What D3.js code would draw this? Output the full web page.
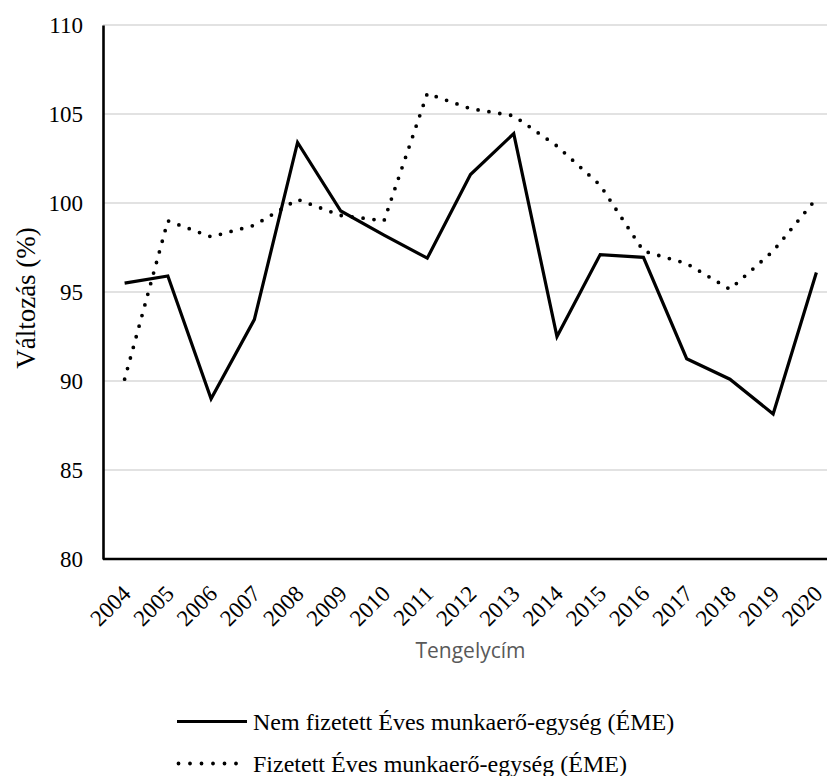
<!DOCTYPE html>
<html>
<head>
<meta charset="utf-8">
<script src="https://cdn.jsdelivr.net/npm/d3@7"></script>
<style>
  html, body { margin: 0; padding: 0; background: #fff; }
  svg { display: block; }
</style>
</head>
<body>
<svg id="chart" width="827" height="776"></svg>
<script>
const years = ["2004","2005","2006","2007","2008","2009","2010","2011","2012","2013","2014","2015","2016","2017","2018","2019","2020"];
const unpaid = [95.5, 95.9, 89.0, 93.45, 103.4, 99.55, 98.2, 96.9, 101.6, 103.9, 92.5, 97.1, 96.95, 91.25, 90.1, 88.15, 96.1];
const paid = [90.1, 99.0, 98.1, 98.75, 100.2, 99.3, 99.0, 106.15, 105.3, 104.9, 103.2, 101.0, 97.3, 96.6, 95.15, 97.3, 100.25];
const yTicks = [80, 85, 90, 95, 100, 105, 110];
const seriesNames = ["Nem fizetett Éves munkaerő-egység (ÉME)", "Fizetett Éves munkaerő-egység (ÉME)"];
const yTitle = "Változás (%)";
const xTitle = "Tengelycím";

(function () {
const svg = d3.select("#chart");
const mL = 103, mR = 838, mT = 25, mB = 559;
const serif = "'Liberation Serif', 'Times New Roman', serif";

const x = d3.scalePoint().domain(years).range([mL, mR]).padding(0.5);
const y = d3.scaleLinear().domain([80, 110]).range([mB, mT]);

// gridlines
svg.append("g").selectAll("line").data(yTicks.filter(d => d !== 80)).join("line")
  .attr("x1", mL).attr("x2", mR)
  .attr("y1", d => y(d)).attr("y2", d => y(d))
  .attr("stroke", "#d9d9d9").attr("stroke-width", 1.5);

// y axis
const yAxis = svg.append("g").attr("transform", `translate(${mL},0)`)
  .call(d3.axisLeft(y).tickValues(yTicks).tickSize(0).tickPadding(20).tickFormat(d3.format("d")));
yAxis.select(".domain").attr("stroke", "#000").attr("stroke-width", 2.6);
yAxis.selectAll("text").attr("font-family", serif).attr("font-size", 23).attr("fill", "#000");

// x axis
const xAxis = svg.append("g").attr("transform", `translate(0,${mB})`)
  .call(d3.axisBottom(x).tickSize(0).tickPadding(0));
xAxis.select(".domain").attr("stroke", "#000").attr("stroke-width", 2.6).attr("d", `M${mL},0H${mR}`);
xAxis.selectAll("text")
  .attr("font-family", serif).attr("font-size", 23).attr("fill", "#000")
  .attr("text-anchor", "end")
  .attr("y", 0).attr("dy", 0)
  .attr("transform", `translate(7,36) rotate(-45)`);

// lines
const line = d3.line().x((d, i) => x(years[i])).y(d => y(d));
svg.append("path").datum(unpaid).attr("d", line)
  .attr("fill", "none").attr("stroke", "#000").attr("stroke-width", 3.2)
  .attr("stroke-linejoin", "miter");
svg.append("path").datum(paid).attr("d", line)
  .attr("fill", "none").attr("stroke", "#000").attr("stroke-width", 3.8)
  .attr("stroke-linecap", "round").attr("stroke-dasharray", "0 11");

// axis titles
svg.append("text")
  .attr("transform", `translate(35,${(mT + mB) / 2 + 6}) rotate(-90)`)
  .attr("text-anchor", "middle")
  .attr("font-family", serif).attr("font-size", 27).attr("fill", "#000")
  .text(yTitle);
svg.append("text")
  .attr("x", (mL + mR) / 2).attr("y", 658)
  .attr("text-anchor", "middle")
  .attr("font-family", "'Open Sans', sans-serif").attr("font-size", 21).attr("fill", "#595959")
  .text(xTitle);

// legend
const legend = svg.append("g");
const rows = [
  { name: seriesNames[0], y: 721.5, dash: null, w: 3.2 },
  { name: seriesNames[1], y: 763.5, dash: "0 11.5", w: 3.8 }
];
rows.forEach(r => {
  const l = legend.append("line").attr("x1", 177).attr("x2", 247)
    .attr("y1", r.y).attr("y2", r.y).attr("stroke", "#000").attr("stroke-width", r.w);
  if (r.dash) l.attr("stroke-dasharray", r.dash).attr("stroke-linecap", "round").attr("x1", 178.5);
  legend.append("text").attr("x", 253).attr("y", r.y + 8)
    .attr("font-family", serif).attr("font-size", 24).attr("fill", "#000").text(r.name);
});
})();
</script>
</body>
</html>
